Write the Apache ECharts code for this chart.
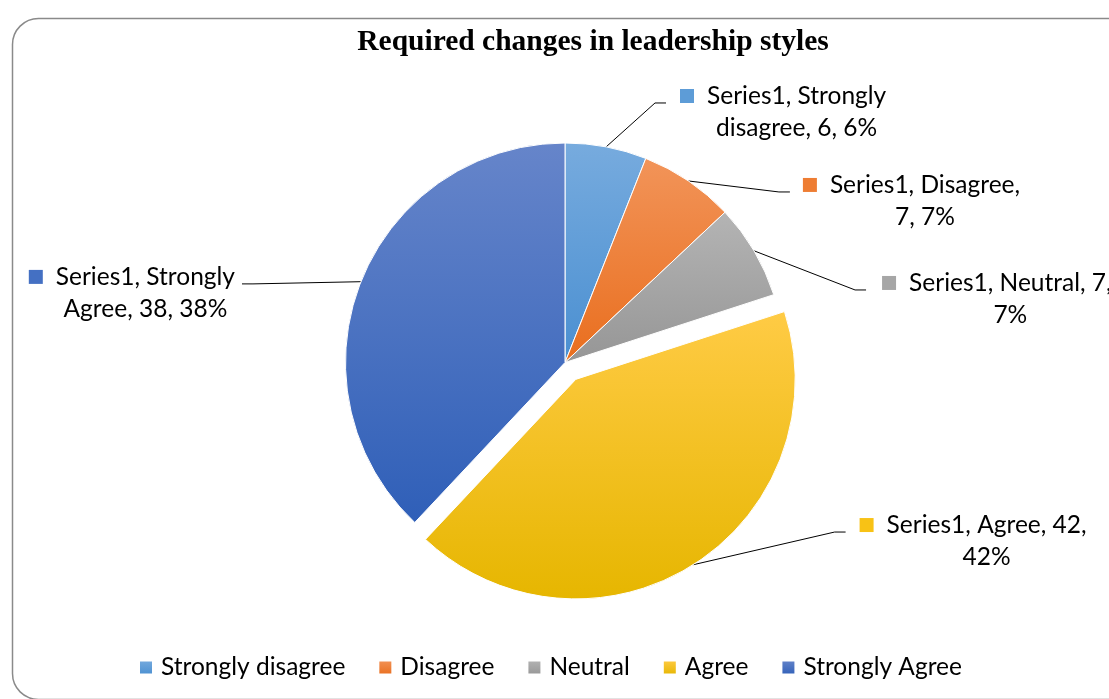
<!DOCTYPE html>
<html>
<head>
<meta charset="utf-8">
<script src="https://cdn.jsdelivr.net/npm/echarts@6/dist/echarts.min.js"></script>
<style>
  html, body { margin: 0; padding: 0; background: #ffffff; }
  #chart { width: 1109px; height: 699px; }
</style>
</head>
<body>
<div id="chart"></div>
<script>
// ---- data ----
const chartTitle = 'Required changes in leadership styles';
const seriesName = 'Series1';
const categories = ['Strongly disagree', 'Disagree', 'Neutral', 'Agree', 'Strongly Agree'];
const values = [6, 7, 7, 42, 38];
const explodedCategory = 'Agree';

// ---- colours (light top -> darker bottom per slice) ----
const topColors = ['#77abde', '#f29459', '#b4b4b4', '#ffcb45', '#6685ca'];
const bottomColors = ['#4a8fd1', '#e96e1e', '#969696', '#e6b600', '#2f5fb8'];
const markerColors = ['#5d9cd7', '#ee7d33', '#a6a6a6', '#f8c215', '#4470c3'];

// ---- label leader-line layout (radial length, horizontal length, gap to text) ----
const leaderLen = [44.7, -13.3, -77, -38.7, -6];
const leaderLen2 = [51.5, 109, 178.4, 173, 124.5];
const leaderGap = [14, 13, 16, 14, 7];

const textFont = 'Lato';
const textSize = 24.5;
const labelWrapWidth = 209;

// word-wrap a label into at most two lines of a given pixel width
const measureCtx = document.createElement('canvas').getContext('2d');
function wrapTwoLines(text, maxWidth) {
  measureCtx.font = textSize + 'px ' + textFont;
  const words = text.split(' ');
  let first = words[0];
  let i = 1;
  while (i < words.length && measureCtx.measureText(first + ' ' + words[i]).width <= maxWidth) {
    first += ' ' + words[i];
    i++;
  }
  return [first, words.slice(i).join(' ')];
}

const rich = {
  g: { width: 13, align: 'left' },
  s: { width: 27, align: 'left' },
  t: { fontFamily: textFont, fontSize: textSize, lineHeight: 32, color: '#000000', align: 'left' },
  c: { fontFamily: textFont, fontSize: textSize, lineHeight: 32, color: '#000000', align: 'center' }
};
markerColors.forEach((c, i) => {
  rich['m' + i] = { width: 14, height: 14, backgroundColor: c, align: 'left' };
});

const pieData = categories.map((name, i) => ({
  name: name,
  value: values[i],
  selected: name === explodedCategory,
  itemStyle: {
    color: {
      type: 'linear', x: 0, y: 0, x2: 0, y2: 1,
      colorStops: [
        { offset: 0, color: topColors[i] },
        { offset: 1, color: bottomColors[i] }
      ]
    }
  },
  labelLine: { length: leaderLen[i], length2: leaderLen2[i] },
  label: { distanceToLabelLine: leaderGap[i] }
}));

const chart = echarts.init(document.getElementById('chart'), null, { renderer: 'canvas' });

chart.setOption({
  animation: false,
  backgroundColor: '#ffffff',
  graphic: [{
    type: 'rect',
    left: 10,
    top: 16,
    silent: true,
    z: -10,
    shape: { width: 1120, height: 681, r: 26 },
    style: { fill: 'none', stroke: '#8a8a8a', lineWidth: 1.5 }
  }],
  title: {
    text: chartTitle,
    left: 593,
    top: 27,
    padding: 0,
    textAlign: 'center',
    textStyle: {
      fontFamily: 'Liberation Serif',
      fontWeight: 'bold',
      fontSize: 29.5,
      color: '#000000'
    }
  },
  legend: {
    left: 138,
    top: 655,
    padding: 0,
    icon: 'rect',
    itemWidth: 14,
    itemHeight: 14,
    itemGap: 32,
    selectedMode: false,
    data: categories,
    textStyle: {
      fontFamily: textFont,
      fontSize: textSize,
      color: '#000000',
      padding: [0, 0, 0, 3]
    }
  },
  series: [{
    type: 'pie',
    name: seriesName,
    center: [565, 362.5],
    radius: 219.5,
    startAngle: 90,
    clockwise: true,
    selectedMode: 'single',
    selectedOffset: 20,
    avoidLabelOverlap: false,
    emphasis: { scale: false },
    itemStyle: { borderColor: '#ffffff', borderWidth: 1 },
    label: {
      show: true,
      position: 'outside',
      overflow: 'none',
      padding: [18, 0, 0, 0],
      fontFamily: textFont,
      fontSize: textSize,
      color: '#000000',
      rich: rich,
      formatter: function (p) {
        const full = p.seriesName + ', ' + p.name + ', ' + p.value + ', ' + Math.round(p.percent) + '%';
        const lines = wrapTwoLines(full, labelWrapWidth);
        let s = '{m' + p.dataIndex + '|}{g|}{t|' + lines[0] + '}';
        if (lines[1]) s += '\n{s|}{c|' + lines[1] + '}';
        return s;
      }
    },
    labelLine: {
      show: true,
      lineStyle: { color: '#000000', width: 1 }
    },
    labelLayout: function (params) {
      const pts = params.labelLinePoints;
      if (!pts || pts.length < 3) return {};
      const start = pts[0];
      const end = pts[2];
      const dir = end[0] >= start[0] ? 1 : -1;
      return { labelLinePoints: [start, [end[0] - dir * 11, end[1]], end] };
    },
    data: pieData
  }]
});
</script>
</body>
</html>
